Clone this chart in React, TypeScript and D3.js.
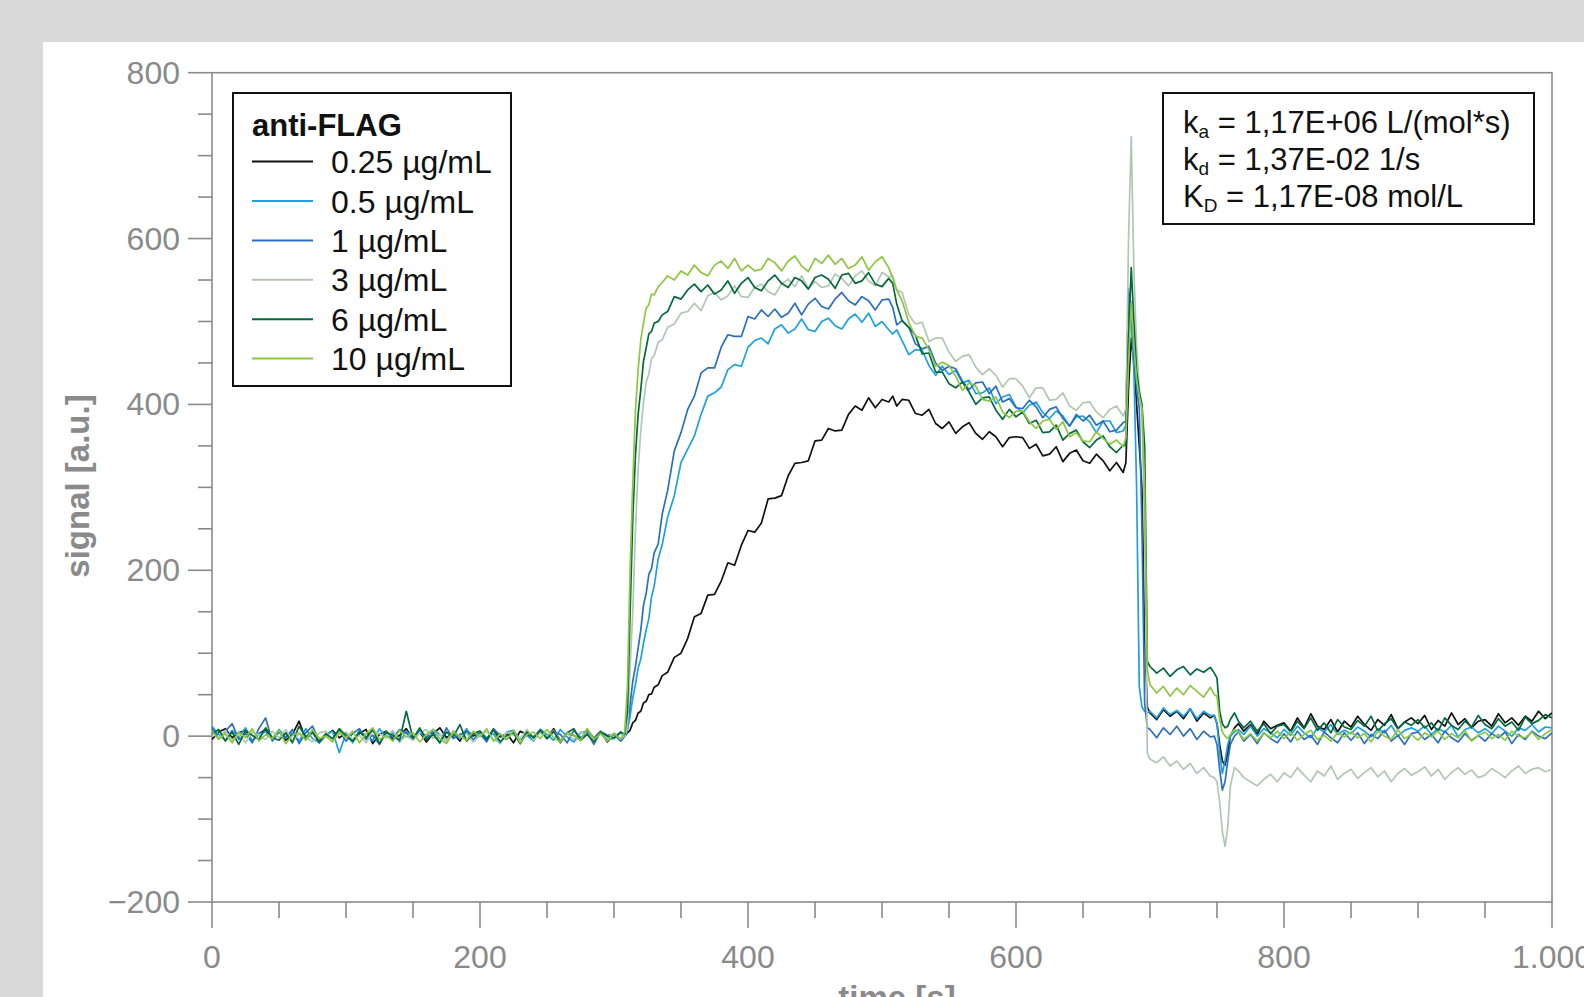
import React from "react";
import * as d3 from "d3";

// ---------- data ----------
const time = [
  0, 5, 10, 15, 20, 25, 30, 35, 40, 45,
  50, 55, 60, 65, 70, 75, 80, 85, 90, 95,
  100, 105, 110, 115, 120, 125, 130, 135, 140, 145,
  150, 155, 160, 165, 170, 175, 180, 185, 190, 195,
  200, 205, 210, 215, 220, 225, 230, 235, 240, 245,
  250, 255, 260, 265, 270, 275, 280, 285, 290, 295,
  300, 305, 308, 310, 312, 314, 316, 318, 320, 322,
  324, 326, 328, 330, 333, 336, 340, 345, 350, 355,
  360, 365, 370, 375, 380, 385, 390, 395, 400, 405,
  410, 415, 420, 425, 430, 435, 440, 445, 450, 455,
  460, 465, 470, 475, 480, 485, 490, 495, 500, 505,
  508, 511, 515, 520, 525, 530, 535, 540, 545, 550,
  555, 560, 565, 570, 575, 580, 585, 590, 595, 600,
  605, 610, 615, 620, 625, 630, 635, 640, 645, 650,
  655, 660, 665, 670, 675, 680, 682, 684, 686, 688,
  690, 692, 694, 696, 698, 700, 705, 710, 715, 720,
  725, 730, 735, 740, 745, 748, 750, 752, 754, 756,
  758, 760, 763, 766, 770, 775, 780, 785, 790, 795,
  800, 805, 810, 815, 820, 825, 830, 835, 840, 845,
  850, 855, 860, 865, 870, 875, 880, 885, 890, 895,
  900, 905, 910, 915, 920, 925, 930, 935, 940, 945,
  950, 955, 960, 965, 970, 975, 980, 985, 990, 995,
  1000,
];

const conc025 = [
  -4, 5, 9, -2, 4, 7, -6, 3, 8, -3,
  6, -5, 2, 18, -4, 5, -8, 1, 7, -2,
  4, -6, 3, 8, -9, 2, 6, -4, 1, 9,
  -3, 5, -7, 3, 10, -2, 4, -6, 7, 0,
  5, -4, 8, -1, 3, -8, 6, 2, -5, 7,
  -2, 9, -6, 4, 1, -5, 8, -3, 6, -7,
  3, -5, 0, 4, 7, 16, 19, 28, 30, 40,
  42, 50, 51, 59, 62, 73, 77, 95, 100, 118,
  144, 148, 170, 171, 187, 209, 206, 230, 248, 246,
  257, 286, 287, 290, 314, 329, 330, 332, 356, 357,
  371, 368, 369, 388, 398, 393, 408, 396, 406, 403,
  410, 398, 406, 405, 389, 387, 394, 377, 371, 379,
  365, 373, 378, 365, 358, 367, 361, 349, 360, 361,
  360, 347, 352, 338, 340, 349, 331, 341, 345, 332,
  329, 340, 332, 320, 330, 318, 330, 420, 480, 450,
  400, 350, 300, 120, 35, 28, 20, 32, 24, 30,
  21, 33, 18, 28, 22, 25, 15, -10, -30, -35,
  -20, 0, 10, 15, 6, 14, 2, 18, 9, 13,
  16, 6, 22, 10, 27, 12, 8, 20, 5, 18,
  11, 24, 14, 7, 20, 13, 26, 9, 17, 22,
  15, 25, 8, 19, 12, 28, 14, 21, 10, 18,
  20, 12, 27, 16, 22, 13, 24, 18, 30, 21,
  28,
];

const conc05 = [
  12, 2, -5, 7, -2, 10, -6, 3, 5, -4,
  8, -1, 4, -6, 9, -3, -8, 2, 6, -20,
  3, -8, 7, 0, -5, 9, -2, 4, -7, 6,
  -1, 5, -4, 8, 2, -6, 4, -3, 9, -5,
  6, -2, 3, -9, 5, 7, -4, 1, -6, 8,
  2, -5, 8, -1, -7, 4, 6, -3, 3, -4,
  -3, 4, 0, 6, 24, 46, 62, 82, 93, 112,
  128, 142, 168, 181, 214, 231, 264, 290, 330, 346,
  362, 388, 410, 414, 421, 442, 448, 446, 469, 477,
  480, 473, 491, 496, 486, 491, 503, 490, 488, 500,
  504, 495, 491, 503, 509, 499, 510, 494, 500, 490,
  485, 490, 477, 460, 466, 465, 447, 435, 446, 436,
  441, 426, 429, 413, 414, 420, 401, 409, 412, 397,
  390, 399, 403, 390, 383, 392, 386, 374, 385, 386,
  379, 366, 380, 380, 366, 368, 375, 540, 500, 440,
  300, 60, 35, 30, 28, 30, 22, 34, 26, 31,
  24, 33, 21, 30, 25, 25, 15, -20, -45, -30,
  -10, 0, 5, 8, 2, 12, 0, 9, 4, -2,
  8, 1, 12, 4, -2, 10, 5, 14, 2, 7,
  3, 11, 6, -1, 9, 4, 13, 0, 7, 10,
  6, 12, 2, 9, 5, 13, -1, 8, 11, 4,
  9, 3, 12, 6, 0, 10, 7, 14, 5, 11,
  10,
];

const conc1 = [
  10, -3, 6, 15, -4, 3, -8, 9, 22, -6,
  5, -2, 8, -9, 4, 12, -5, 2, -3, 7,
  -6, 3, 9, -4, 1, -10, 6, -2, 8, 4,
  -4, 7, -1, 5, -8, 10, -3, 2, 6, -5,
  3, -7, 9, 1, -4, 6, -9, 4, -1, 8,
  -3, 5, 2, -8, 7, -2, 4, -10, 6, 1,
  2, -6, 0, 10, 38, 66, 84, 106, 128, 158,
  172, 195, 202, 221, 232, 268, 296, 344, 366, 394,
  410, 438, 444, 444, 469, 484, 482, 482, 506, 503,
  514, 506, 515, 505, 510, 522, 508, 521, 528, 518,
  515, 527, 535, 525, 520, 530, 525, 514, 526, 527,
  517, 496, 501, 493, 473, 467, 470, 450, 441, 446,
  443, 428, 418, 426, 427, 413, 422, 403, 407, 396,
  395, 405, 397, 384, 394, 397, 383, 374, 388, 380,
  387, 375, 380, 367, 369, 378, 380, 535, 520, 460,
  420, 395, 250, 40, 10, 8, -2, 10, 2, 12,
  0, 9, -4, 6, -1, 0, -10, -40, -65, -55,
  -30, -10, 0, 5, -6, 2, -9, 4, -3, -8,
  3, -7, 6, -4, 1, -10, 5, -2, -8, 4,
  -5, 4, -9, 2, -3, 7, -6, 1, -10, 3,
  5, -4, 2, -8, 6, -2, -7, 3, -5, 1,
  -6, 3, -2, 5, -9, 2, -4, 6, 0, -3,
  4,
];

const conc3 = [
  4, -3, 7, -5, 2, -8, 5, 1, -4, 6,
  -2, 8, -6, 3, -1, -7, 4, 6, -5, 2,
  5, -4, 1, -8, 6, 3, -2, 7, -6, 0,
  -5, 4, 8, -3, 2, -6, 7, -1, 3, -7,
  2, 6, -4, -8, 5, 1, -3, 8, -5, 4,
  -1, 7, -6, 3, -4, 5, 2, -7, 6, -2,
  4, -3, 0, 10, 82, 150, 248, 322, 368, 402,
  427, 437, 455, 459, 475, 478, 493, 497, 510, 512,
  522, 513, 531, 535, 526, 531, 543, 530, 529, 541,
  545, 536, 532, 545, 551, 542, 555, 540, 548, 541,
  543, 557, 552, 543, 555, 561, 549, 543, 559, 554,
  555, 538, 535, 508, 497, 499, 476, 480, 480, 463,
  452, 458, 460, 445, 436, 443, 435, 421, 431, 431,
  422, 408, 420, 420, 405, 406, 414, 398, 393, 402,
  403, 391, 384, 394, 398, 386, 395, 600, 723, 560,
  470, 420, 390, 250, -20, -28, -32, -25, -36, -30,
  -40, -33, -45, -38, -48, -50, -55, -80, -115, -133,
  -110, -60, -38, -42, -50, -55, -60, -52, -46, -55,
  -44, -50, -38, -47, -55, -42, -48, -36, -52, -45,
  -40, -51, -44, -38, -49, -42, -55, -45, -39, -47,
  -43, -37, -48, -40, -52, -44, -38, -46, -41, -50,
  -47, -39, -44, -50, -42, -36, -45, -40, -38, -43,
  -40,
];

const conc6 = [
  3, 8, -6, 5, -10, 7, 1, -4, 10, -2,
  -5, 4, -8, 12, -1, 6, -7, 3, -3, 9,
  0, -6, 5, -2, 8, -9, 4, 1, -5, 30,
  -3, 10, -4, 2, -8, 5, -1, 14, -6, 3,
  6, -4, 8, -7, 1, 4, -9, 5, -2, 7,
  -3, 6, -8, 4, 9, -5, 2, -7, 5, 0,
  -2, 5, 2, 30, 148, 262, 338, 388, 418, 452,
  468, 485, 488, 498, 500, 508, 512, 530, 527, 538,
  545, 536, 544, 533, 538, 549, 534, 546, 553, 541,
  537, 549, 556, 546, 541, 553, 549, 539, 553, 556,
  551, 540, 556, 558, 546, 549, 559, 545, 542, 552,
  546, 521, 501, 493, 483, 461, 462, 439, 439, 425,
  420, 427, 415, 400, 408, 409, 393, 382, 394, 385,
  391, 377, 381, 366, 367, 375, 357, 365, 369, 355,
  348, 357, 362, 349, 342, 351, 350, 480, 565, 500,
  440, 415, 400, 350, 90, 84, 76, 82, 72, 80,
  84, 74, 81, 77, 83, 76, 70, 30, 15, 10,
  12, 20, 28, 18, 10, 18, 6, 15, 3, 12,
  14, 5, 18, 9, 22, 7, 16, 4, 20, 11,
  8, 19, 12, 24, 6, 15, 21, 9, 17, 13,
  20, 10, 16, 6, 22, 13, 8, 18, 11, 25,
  14, 9, 21, 12, 17, 7, 23, 15, 19, 26,
  22,
];

const conc10 = [
  6, -4, 3, -8, 5, -2, 9, -6, 2, -3,
  7, -9, 1, 4, -5, 8, -3, 0, -7, 5,
  -2, 6, -8, 3, 10, -4, 1, -6, 7, -1,
  4, -7, 2, 8, -3, -9, 5, 0, -5, 6,
  -1, 9, -6, 3, -4, 7, -8, 2, 5, -3,
  8, -2, -7, 4, 1, -5, 9, -4, 3, -6,
  3, -4, 5, 60, 200, 305, 392, 442, 478, 498,
  516, 520, 533, 532, 542, 547, 555, 550, 561, 556,
  568, 559, 555, 568, 573, 564, 576, 561, 568, 561,
  563, 576, 571, 561, 573, 579, 567, 560, 576, 570,
  580, 569, 576, 564, 568, 578, 562, 572, 578, 565,
  552, 538, 525, 499, 482, 480, 466, 446, 451, 447,
  434, 417, 426, 422, 406, 404, 409, 391, 384, 392,
  392, 379, 371, 380, 382, 370, 379, 361, 366, 356,
  355, 367, 359, 352, 357, 349, 360, 450, 522, 470,
  430, 410, 395, 300, 80, 62, 52, 60, 48, 58,
  50, 61, 54, 47, 59, 50, 48, 20, 5, 0,
  -3, 2, 8, 5, -4, 3, -6, 4, -2, 6,
  -3, 5, -5, 2, 7, -4, 1, -6, 4, -1,
  5, -2, 3, -7, 6, 0, -4, 8, -3, 2,
  -5, 4, -1, 6, -4, 3, -2, 7, -6, 1,
  5, -3, 2, -5, 6, 0, -2, 5, -4, 3,
  8,
];

const seriesLabels = ["0.25 µg/mL", "0.5 µg/mL", "1 µg/mL", "3 µg/mL", "6 µg/mL", "10 µg/mL"];
const seriesColors = ["#111111", "#1da1e0", "#2a6fc2", "#b2c6b4", "#036a3a", "#8dc641"];
const seriesValues = [conc025, conc05, conc1, conc3, conc6, conc10];
const legendTitle = "anti-FLAG";
const yTicks = [-200, 0, 200, 400, 600, 800];
const xTicks = [0, 200, 400, 600, 800, 1000];
const kinetics = [
  { sym: "k", sub: "a", rest: " = 1,17E+06 L/(mol*s)" },
  { sym: "k", sub: "d", rest: " = 1,37E-02 1/s" },
  { sym: "K", sub: "D", rest: " = 1,17E-08 mol/L" },
];

const FONT = "'Liberation Sans', Arial, Helvetica, sans-serif";
const GREY = "#8a8a8a";

export default function App() {
  const W = 1584;
  const H = 997;
  const x = d3.scaleLinear().domain([0, 1000]).range([212, 1552]);
  const y = d3.scaleLinear().domain([-200, 800]).range([902, 72.7]);
  const fmt = d3
    .formatLocale({ decimal: ",", thousands: ".", grouping: [3], currency: ["", ""] })
    .format(",d");

  const minorX = d3.range(0, 1001, 50).filter((v) => v % 200 !== 0);
  const minorY = d3.range(-200, 801, 50).filter((v) => v % 200 !== 0);

  const line = d3
    .line<number>()
    .x((_, i) => x(time[i]))
    .y((d) => y(d));

  const [x0, x1] = x.range();
  const [yb, yt] = y.range();

  return (
    <svg
      width={W}
      height={H}
      viewBox={`0 0 ${W} ${H}`}
      style={{ position: "absolute", left: 0, top: 0, display: "block" }}
      fontFamily={FONT}
    >
      <rect x={0} y={0} width={W} height={H} fill="#d9d9d9" />
      <rect x={43} y={42} width={W - 43} height={H - 42} fill="#ffffff" />

      <defs>
        <clipPath id="plotClip">
          <rect x={x0} y={yt} width={x1 - x0} height={yb - yt} />
        </clipPath>
      </defs>

      {/* frame */}
      <rect x={x0} y={yt} width={x1 - x0} height={yb - yt} fill="none" stroke={GREY} strokeWidth={1.6} />

      {/* y ticks */}
      {yTicks.map((v) => (
        <g key={"yt" + v}>
          <line x1={188} x2={x0} y1={y(v)} y2={y(v)} stroke={GREY} strokeWidth={1.6} />
          <text x={180} y={y(v) + 11} textAnchor="end" fontSize={32} fill={GREY}>
            {fmt(v)}
          </text>
        </g>
      ))}
      {minorY.map((v) => (
        <line key={"ym" + v} x1={198} x2={x0} y1={y(v)} y2={y(v)} stroke={GREY} strokeWidth={1.6} />
      ))}

      {/* x ticks */}
      {xTicks.map((v) => (
        <g key={"xt" + v}>
          <line x1={x(v)} x2={x(v)} y1={yb} y2={928} stroke={GREY} strokeWidth={1.6} />
          <text x={x(v)} y={968} textAnchor="middle" fontSize={32} fill={GREY}>
            {fmt(v)}
          </text>
        </g>
      ))}
      {minorX.map((v) => (
        <line key={"xm" + v} x1={x(v)} x2={x(v)} y1={yb} y2={918} stroke={GREY} strokeWidth={1.6} />
      ))}

      {/* axis titles */}
      <text
        transform={`translate(89,486) rotate(-90)`}
        textAnchor="middle"
        fontSize={33}
        fontWeight="bold"
        fill={GREY}
      >
        signal [a.u.]
      </text>
      <text x={897} y={1009} textAnchor="middle" fontSize={33} fontWeight="bold" fill={GREY}>
        time [s]
      </text>

      {/* curves */}
      <g clipPath="url(#plotClip)">
        {seriesValues.map((vals, si) => (
          <path
            key={"s" + si}
            d={line(vals) || ""}
            fill="none"
            stroke={seriesColors[si]}
            strokeWidth={1.7}
            strokeLinejoin="round"
          />
        ))}
      </g>

      {/* legend */}
      <rect x={233} y={93} width={278} height={293} fill="#ffffff" stroke="#111" strokeWidth={2} />
      <text x={252} y={136} fontSize={31} fontWeight="bold" fill="#111">
        {legendTitle}
      </text>
      {seriesLabels.map((lab, i) => {
        const cy = 161.6 + i * 39.4;
        return (
          <g key={"lg" + i}>
            <line x1={252} x2={313} y1={cy} y2={cy} stroke={seriesColors[i]} strokeWidth={2} />
            <text x={331} y={cy + 11.5} fontSize={32} fill="#111">
              {lab}
            </text>
          </g>
        );
      })}

      {/* kinetics box */}
      <rect x={1163} y={93} width={371} height={131} fill="#ffffff" stroke="#111" strokeWidth={2} />
      {kinetics.map((k, i) => (
        <text key={"k" + i} x={1183} y={133 + i * 37} fontSize={31} fill="#111">
          {k.sym}
          <tspan fontSize={19} dy={5}>
            {k.sub}
          </tspan>
          <tspan dy={-5}>{k.rest}</tspan>
        </text>
      ))}
    </svg>
  );
}
